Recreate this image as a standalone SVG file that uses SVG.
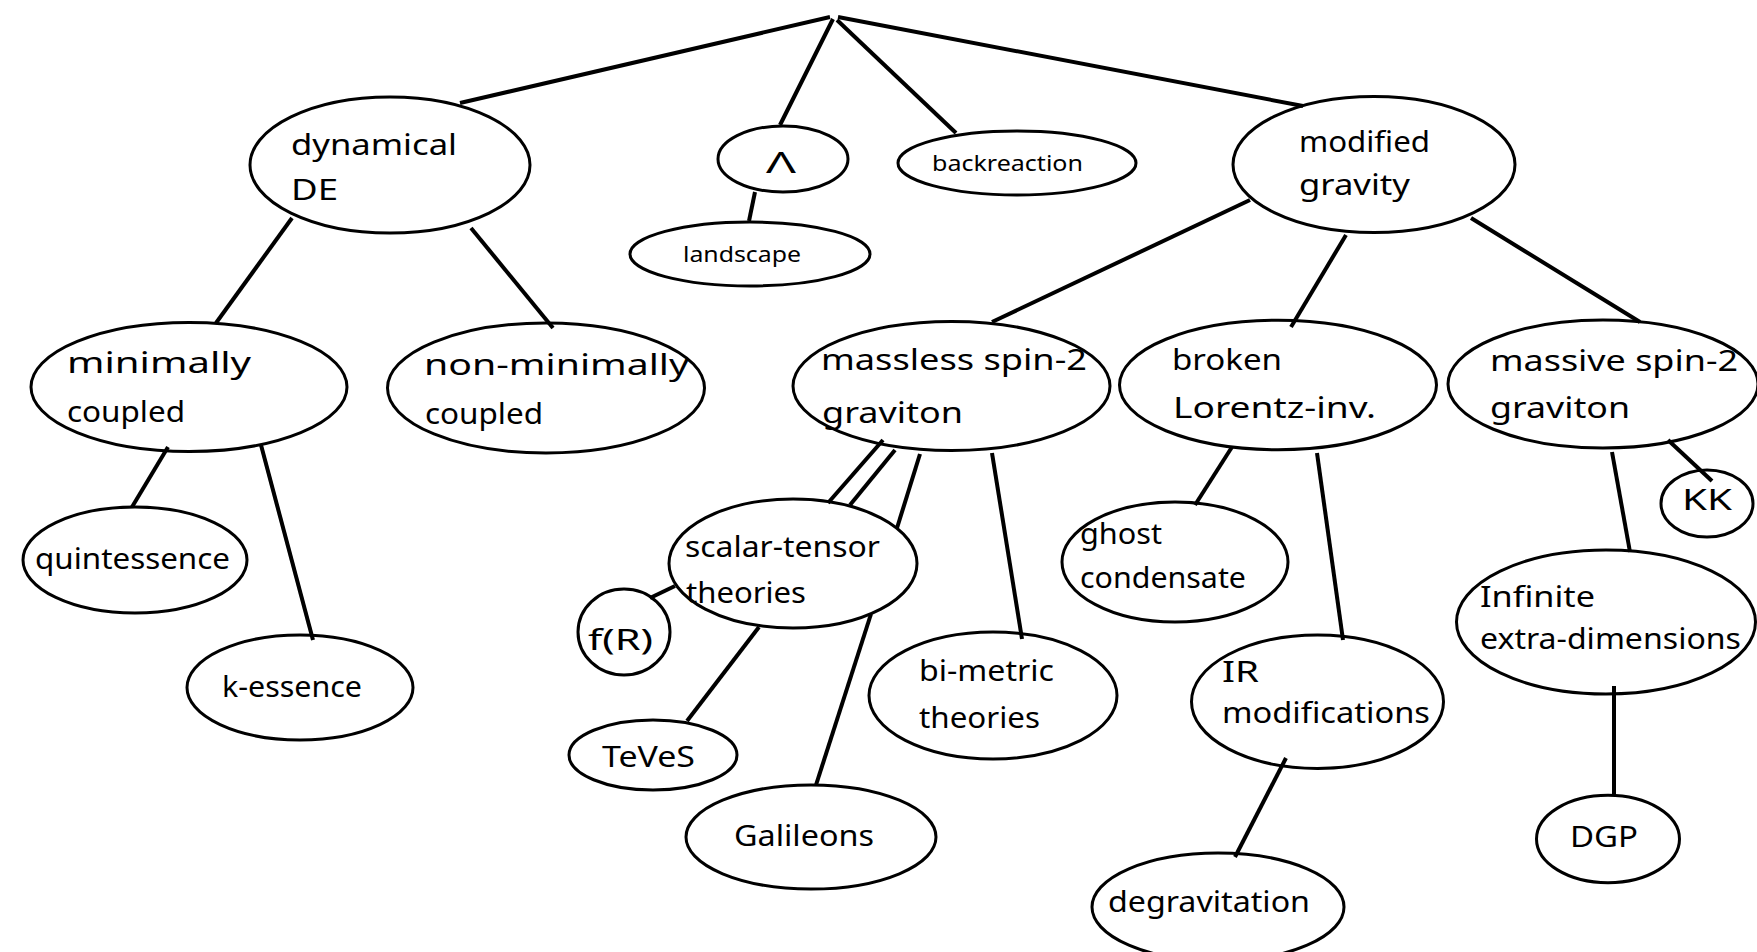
<svg xmlns="http://www.w3.org/2000/svg" width="1757" height="952" viewBox="0 0 1757 952">
<style>
  .node ellipse { fill: #ffffff; stroke: #000000; stroke-width: 3; }
  .node text { font-family: "Noto Sans", "DejaVu Sans", sans-serif; font-size: 29px; fill: #000000; }
  .node text.small { font-size: 22px; }
  #connectors line { stroke: #000000; stroke-width: 4; stroke-linecap: butt; }
</style>
<rect x="0" y="0" width="1757" height="952" fill="#ffffff"/>

<g id="node-dynamical-de" class="node">
  <ellipse cx="390" cy="165" rx="140" ry="68"/>
  <text x="291" y="155" textLength="166" lengthAdjust="spacingAndGlyphs">dynamical</text>
  <text x="291" y="200" textLength="47" lengthAdjust="spacingAndGlyphs">DE</text>
</g>
<g id="node-lambda" class="node">
  <ellipse cx="783" cy="159" rx="65" ry="33"/>
  <text x="766" y="173" textLength="30" lengthAdjust="spacingAndGlyphs">Λ</text>
</g>
<g id="node-landscape" class="node">
  <ellipse cx="750" cy="254" rx="120" ry="32"/>
  <text class="small" x="683" y="262" textLength="118" lengthAdjust="spacingAndGlyphs">landscape</text>
</g>
<g id="node-backreaction" class="node">
  <ellipse cx="1017" cy="163" rx="119" ry="32"/>
  <text class="small" x="932" y="171" textLength="151" lengthAdjust="spacingAndGlyphs">backreaction</text>
</g>
<g id="node-modified-gravity" class="node">
  <ellipse cx="1374" cy="164.5" rx="141" ry="68"/>
  <text x="1299" y="152" textLength="131" lengthAdjust="spacingAndGlyphs">modified</text>
  <text x="1299" y="195" textLength="111" lengthAdjust="spacingAndGlyphs">gravity</text>
</g>
<g id="node-minimally-coupled" class="node">
  <ellipse cx="189" cy="387" rx="158" ry="64.5"/>
  <text x="67" y="373" textLength="184" lengthAdjust="spacingAndGlyphs">minimally</text>
  <text x="67" y="422" textLength="118" lengthAdjust="spacingAndGlyphs">coupled</text>
</g>
<g id="node-non-minimally-coupled" class="node">
  <ellipse cx="546" cy="388" rx="158.5" ry="65"/>
  <text x="424" y="375" textLength="265" lengthAdjust="spacingAndGlyphs">non-minimally</text>
  <text x="425" y="424" textLength="118" lengthAdjust="spacingAndGlyphs">coupled</text>
</g>
<g id="node-massless-spin2" class="node">
  <ellipse cx="951.5" cy="386" rx="158.5" ry="64.5"/>
  <text x="821" y="370" textLength="266" lengthAdjust="spacingAndGlyphs">massless spin-2</text>
  <text x="822" y="423" textLength="141" lengthAdjust="spacingAndGlyphs">graviton</text>
</g>
<g id="node-broken-lorentz" class="node">
  <ellipse cx="1278" cy="385" rx="158.5" ry="64.7"/>
  <text x="1172" y="370" textLength="110" lengthAdjust="spacingAndGlyphs">broken</text>
  <text x="1173" y="418" textLength="203" lengthAdjust="spacingAndGlyphs">Lorentz-inv.</text>
</g>
<g id="node-massive-spin2" class="node">
  <ellipse cx="1603" cy="384" rx="155" ry="64"/>
  <text x="1490" y="371" textLength="248" lengthAdjust="spacingAndGlyphs">massive spin-2</text>
  <text x="1490" y="418" textLength="140" lengthAdjust="spacingAndGlyphs">graviton</text>
</g>
<g id="node-quintessence" class="node">
  <ellipse cx="135" cy="560" rx="112" ry="53"/>
  <text x="35" y="569" textLength="195" lengthAdjust="spacingAndGlyphs">quintessence</text>
</g>
<g id="node-k-essence" class="node">
  <ellipse cx="300" cy="687.5" rx="113" ry="52.5"/>
  <text x="222" y="697" textLength="140" lengthAdjust="spacingAndGlyphs">k-essence</text>
</g>
<g id="node-scalar-tensor" class="node">
  <ellipse cx="793" cy="563.5" rx="124" ry="64.5"/>
  <text x="685" y="557" textLength="195" lengthAdjust="spacingAndGlyphs">scalar-tensor</text>
  <text x="686" y="603" textLength="120" lengthAdjust="spacingAndGlyphs">theories</text>
</g>
<g id="node-f-r" class="node">
  <ellipse cx="624" cy="632" rx="46" ry="43"/>
  <text x="588" y="650" textLength="65" lengthAdjust="spacingAndGlyphs">f(R)</text>
</g>
<g id="node-teves" class="node">
  <ellipse cx="653" cy="755" rx="84" ry="35"/>
  <text x="602" y="767" textLength="93" lengthAdjust="spacingAndGlyphs">TeVeS</text>
</g>
<g id="node-galileons" class="node">
  <ellipse cx="811" cy="837" rx="125" ry="52"/>
  <text x="734" y="846" textLength="140" lengthAdjust="spacingAndGlyphs">Galileons</text>
</g>
<g id="node-bi-metric" class="node">
  <ellipse cx="993" cy="695.5" rx="124" ry="63.5"/>
  <text x="919" y="681" textLength="135" lengthAdjust="spacingAndGlyphs">bi-metric</text>
  <text x="919" y="728" textLength="121" lengthAdjust="spacingAndGlyphs">theories</text>
</g>
<g id="node-ghost-condensate" class="node">
  <ellipse cx="1175" cy="562" rx="113" ry="60"/>
  <text x="1080" y="544" textLength="82" lengthAdjust="spacingAndGlyphs">ghost</text>
  <text x="1080" y="588" textLength="166" lengthAdjust="spacingAndGlyphs">condensate</text>
</g>
<g id="node-ir-modifications" class="node">
  <ellipse cx="1317.5" cy="701.7" rx="126" ry="66.7"/>
  <text x="1222" y="682" textLength="37" lengthAdjust="spacingAndGlyphs">IR</text>
  <text x="1222" y="723" textLength="208" lengthAdjust="spacingAndGlyphs">modifications</text>
</g>
<g id="node-degravitation" class="node">
  <ellipse cx="1218" cy="907" rx="126" ry="54"/>
  <text x="1108" y="912" textLength="202" lengthAdjust="spacingAndGlyphs">degravitation</text>
</g>
<g id="node-infinite-extra-dimensions" class="node">
  <ellipse cx="1606" cy="622" rx="149.5" ry="72"/>
  <text x="1480" y="607" textLength="115" lengthAdjust="spacingAndGlyphs">Infinite</text>
  <text x="1480" y="649" textLength="261" lengthAdjust="spacingAndGlyphs">extra-dimensions</text>
</g>
<g id="node-kk" class="node">
  <ellipse cx="1707" cy="503.5" rx="46" ry="33.5"/>
  <text x="1682" y="510" textLength="50" lengthAdjust="spacingAndGlyphs">KK</text>
</g>
<g id="node-dgp" class="node">
  <ellipse cx="1608" cy="839" rx="71.5" ry="43.7"/>
  <text x="1570" y="847" textLength="68" lengthAdjust="spacingAndGlyphs">DGP</text>
</g>

<g id="connectors">
  <line x1="830" y1="17" x2="460" y2="103"/>
  <line x1="833" y1="19" x2="780" y2="125"/>
  <line x1="837" y1="20" x2="956" y2="133"/>
  <line x1="838" y1="17" x2="1303" y2="106"/>
  <line x1="755" y1="192" x2="749" y2="221"/>
  <line x1="292" y1="218" x2="216" y2="323"/>
  <line x1="471" y1="228" x2="553" y2="328"/>
  <line x1="168" y1="447" x2="132" y2="507"/>
  <line x1="261" y1="445" x2="313" y2="640"/>
  <line x1="1250" y1="200" x2="992" y2="322"/>
  <line x1="1346" y1="235" x2="1291" y2="327"/>
  <line x1="1471" y1="218" x2="1640" y2="322"/>
  <line x1="883" y1="440" x2="828" y2="503"/>
  <line x1="895" y1="450" x2="850" y2="505"/>
  <line x1="920" y1="454" x2="897" y2="528"/>
  <line x1="871" y1="614" x2="816" y2="785"/>
  <line x1="992" y1="453" x2="1022" y2="639"/>
  <line x1="650" y1="598" x2="675" y2="586"/>
  <line x1="759" y1="627" x2="687" y2="721"/>
  <line x1="1232" y1="447" x2="1195" y2="505"/>
  <line x1="1317" y1="453" x2="1343" y2="640"/>
  <line x1="1286" y1="758" x2="1235" y2="857"/>
  <line x1="1612" y1="452" x2="1630" y2="552"/>
  <line x1="1668" y1="440" x2="1712" y2="481"/>
  <line x1="1614" y1="686" x2="1614" y2="795"/>
</g>
</svg>
